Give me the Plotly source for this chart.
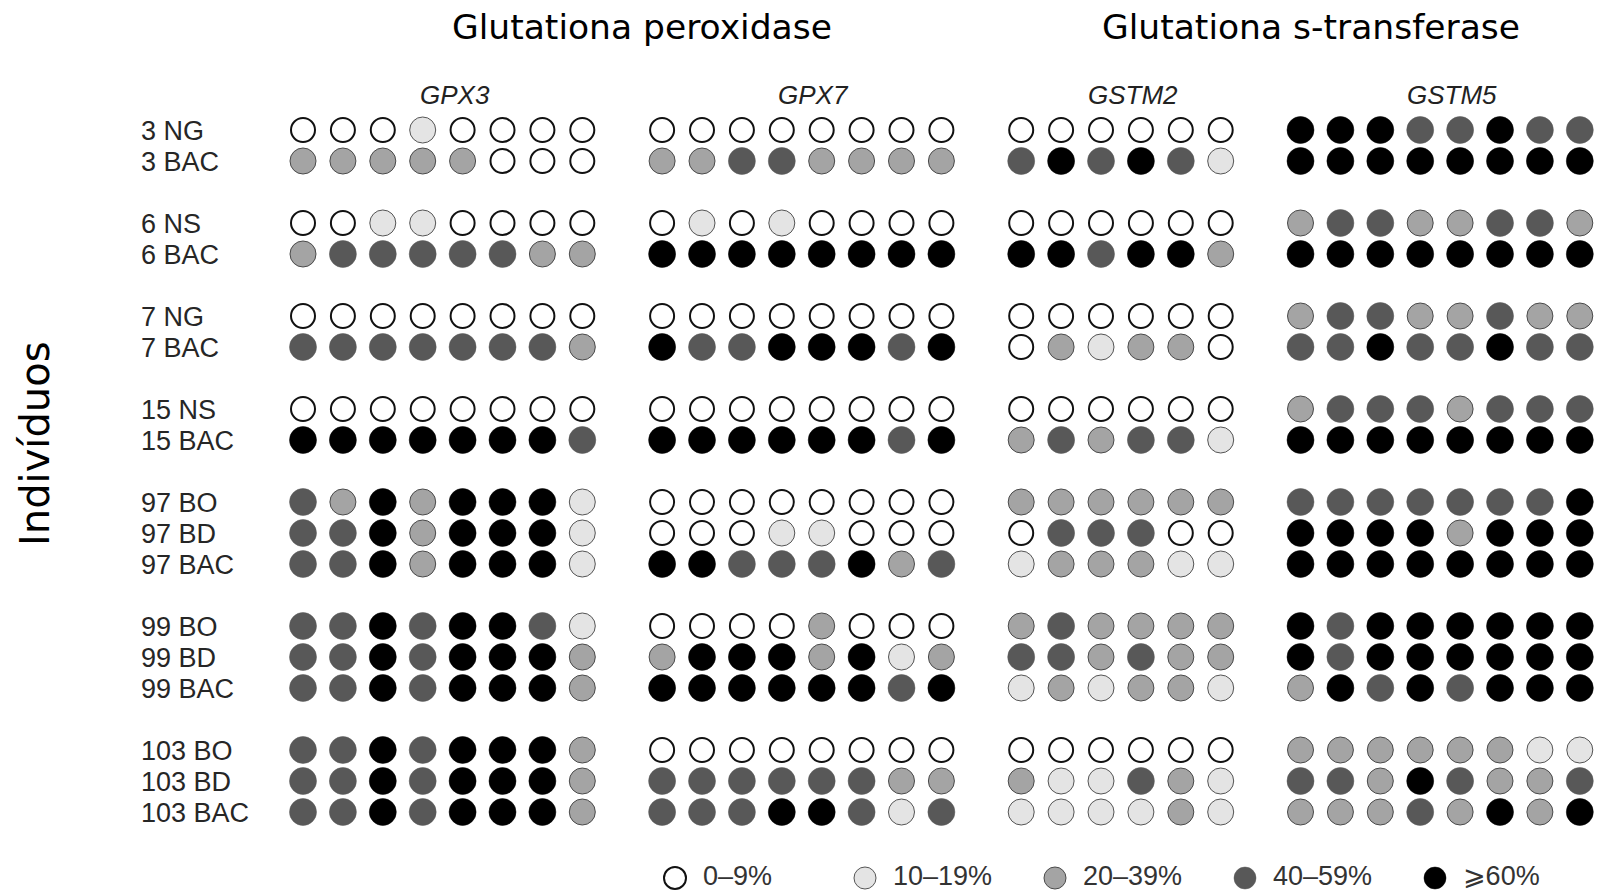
import plotly.graph_objects as go

# Samples (rows), grouped by individual
rows = ["3 NG", "3 BAC", "6 NS", "6 BAC", "7 NG", "7 BAC", "15 NS", "15 BAC",
        "97 BO", "97 BD", "97 BAC", "99 BO", "99 BD", "99 BAC",
        "103 BO", "103 BD", "103 BAC"]
group_sizes = [2, 2, 2, 2, 3, 3, 3]

genes = ["GPX3", "GPX7", "GSTM2", "GSTM5"]
families = ["Glutationa peroxidase", "Glutationa s-transferase"]
levels = ["0–9%", "10–19%", "20–39%", "40–59%", "⩾60%"]

# Methylation class per CpG site (0: 0–9%, 1: 10–19%, 2: 20–39%, 3: 40–59%, 4: ≥60%)
gpx3 = [
    [0, 0, 0, 1, 0, 0, 0, 0],
    [2, 2, 2, 2, 2, 0, 0, 0],
    [0, 0, 1, 1, 0, 0, 0, 0],
    [2, 3, 3, 3, 3, 3, 2, 2],
    [0, 0, 0, 0, 0, 0, 0, 0],
    [3, 3, 3, 3, 3, 3, 3, 2],
    [0, 0, 0, 0, 0, 0, 0, 0],
    [4, 4, 4, 4, 4, 4, 4, 3],
    [3, 2, 4, 2, 4, 4, 4, 1],
    [3, 3, 4, 2, 4, 4, 4, 1],
    [3, 3, 4, 2, 4, 4, 4, 1],
    [3, 3, 4, 3, 4, 4, 3, 1],
    [3, 3, 4, 3, 4, 4, 4, 2],
    [3, 3, 4, 3, 4, 4, 4, 2],
    [3, 3, 4, 3, 4, 4, 4, 2],
    [3, 3, 4, 3, 4, 4, 4, 2],
    [3, 3, 4, 3, 4, 4, 4, 2],
]
gpx7 = [
    [0, 0, 0, 0, 0, 0, 0, 0],
    [2, 2, 3, 3, 2, 2, 2, 2],
    [0, 1, 0, 1, 0, 0, 0, 0],
    [4, 4, 4, 4, 4, 4, 4, 4],
    [0, 0, 0, 0, 0, 0, 0, 0],
    [4, 3, 3, 4, 4, 4, 3, 4],
    [0, 0, 0, 0, 0, 0, 0, 0],
    [4, 4, 4, 4, 4, 4, 3, 4],
    [0, 0, 0, 0, 0, 0, 0, 0],
    [0, 0, 0, 1, 1, 0, 0, 0],
    [4, 4, 3, 3, 3, 4, 2, 3],
    [0, 0, 0, 0, 2, 0, 0, 0],
    [2, 4, 4, 4, 2, 4, 1, 2],
    [4, 4, 4, 4, 4, 4, 3, 4],
    [0, 0, 0, 0, 0, 0, 0, 0],
    [3, 3, 3, 3, 3, 3, 2, 2],
    [3, 3, 3, 4, 4, 3, 1, 3],
]
gstm2 = [
    [0, 0, 0, 0, 0, 0],
    [3, 4, 3, 4, 3, 1],
    [0, 0, 0, 0, 0, 0],
    [4, 4, 3, 4, 4, 2],
    [0, 0, 0, 0, 0, 0],
    [0, 2, 1, 2, 2, 0],
    [0, 0, 0, 0, 0, 0],
    [2, 3, 2, 3, 3, 1],
    [2, 2, 2, 2, 2, 2],
    [0, 3, 3, 3, 0, 0],
    [1, 2, 2, 2, 1, 1],
    [2, 3, 2, 2, 2, 2],
    [3, 3, 2, 3, 2, 2],
    [1, 2, 1, 2, 2, 1],
    [0, 0, 0, 0, 0, 0],
    [2, 1, 1, 3, 2, 1],
    [1, 1, 1, 1, 2, 1],
]
gstm5 = [
    [4, 4, 4, 3, 3, 4, 3, 3],
    [4, 4, 4, 4, 4, 4, 4, 4],
    [2, 3, 3, 2, 2, 3, 3, 2],
    [4, 4, 4, 4, 4, 4, 4, 4],
    [2, 3, 3, 2, 2, 3, 2, 2],
    [3, 3, 4, 3, 3, 4, 3, 3],
    [2, 3, 3, 3, 2, 3, 3, 3],
    [4, 4, 4, 4, 4, 4, 4, 4],
    [3, 3, 3, 3, 3, 3, 3, 4],
    [4, 4, 4, 4, 2, 4, 4, 4],
    [4, 4, 4, 4, 4, 4, 4, 4],
    [4, 3, 4, 4, 4, 4, 4, 4],
    [4, 3, 4, 4, 4, 4, 4, 4],
    [2, 4, 3, 4, 3, 4, 4, 4],
    [2, 2, 2, 2, 2, 2, 1, 1],
    [3, 3, 2, 4, 3, 2, 2, 3],
    [2, 2, 2, 3, 2, 4, 2, 4],
]
gene_data = [gpx3, gpx7, gstm2, gstm5]

# Styling per class
fill_colors = ["#ffffff", "#e4e4e4", "#a4a4a4", "#585858", "#000000"]
line_colors = ["#111111", "#555555", "#4a4a4a", "#585858", "#000000"]
line_widths = [2, 1, 1, 0.5, 0.5]
dot_sizes = [24, 26, 26, 27, 27]

W, H = 1603, 890
# Axis scale: one grid unit = 39.9 px across, 31 px down; first dot at (303, 130)
X0, DX = 303.0, 39.9
Y0, DY = 130.0, 31.0


def ux(px):
    return (px - X0) / DX


def uy(py):
    return (py - Y0) / DY


# Grid layout: one unit between rows, an extra unit between individuals / genes
row_y = []
y = 0
for n in group_sizes:
    for _ in range(n):
        row_y.append(y)
        y += 1
    y += 1

gene_x = []
x = 0
for g in gene_data:
    cols = []
    for _ in range(len(g[0])):
        cols.append(x)
        x += 1
    gene_x.append(cols)
    x += 1

pts = {k: ([], []) for k in range(len(levels))}
for gi, data in enumerate(gene_data):
    for ri, row in enumerate(data):
        for ci, v in enumerate(row):
            pts[v][0].append(gene_x[gi][ci])
            pts[v][1].append(row_y[ri])

fig = go.Figure()
for k, lab in enumerate(levels):
    fig.add_trace(go.Scatter(
        x=pts[k][0], y=pts[k][1], mode="markers", name=lab,
        marker=dict(size=dot_sizes[k], color=fill_colors[k],
                    line=dict(color=line_colors[k], width=line_widths[k])),
        hoverinfo="skip", showlegend=False,
    ))

# Sample labels
fig.add_trace(go.Scatter(
    x=[ux(141)] * len(rows), y=[ry + 0.12 for ry in row_y], mode="text",
    text=rows, textposition="middle right",
    textfont=dict(family="Liberation Sans, Arial", size=27, color="#262626"),
    showlegend=False, hoverinfo="skip",
))

# Key: symbol + range label for each class, evenly spaced along the bottom
key_x = [ux(675 + 190 * k) for k in range(len(levels))]
key_y = uy(878)
fig.add_trace(go.Scatter(
    x=key_x, y=[key_y] * len(levels), mode="markers",
    marker=dict(size=22, color=fill_colors,
                line=dict(color=line_colors, width=line_widths)),
    showlegend=False, hoverinfo="skip",
))
fig.add_trace(go.Scatter(
    x=[kx + 28 / DX for kx in key_x], y=[key_y] * len(levels), mode="text",
    text=levels, textposition="middle right",
    textfont=dict(family="Liberation Sans, DejaVu Sans, Arial", size=27, color="#333333"),
    showlegend=False, hoverinfo="skip",
))

# Gene labels above each block
for gi, name in enumerate(genes):
    cx = (gene_x[gi][0] + gene_x[gi][-1]) / 2 + 0.3
    fig.add_annotation(
        x=cx, y=uy(95), xref="x", yref="y", text=f"<i>{name}</i>", showarrow=False,
        font=dict(family="Liberation Sans Narrow, Liberation Sans, Arial", size=26, color="#222222"),
        xanchor="center", yanchor="middle",
    )

# Enzyme family headers and row-axis title
title_font = dict(family="Comic Sans MS, DejaVu Sans", size=34.5, color="#000000")
fig.add_annotation(x=642 / W, y=1 - 27 / H, xref="paper", yref="paper",
                   text=families[0], showarrow=False, font=title_font,
                   xanchor="center", yanchor="middle")
fig.add_annotation(x=1311 / W, y=1 - 27 / H, xref="paper", yref="paper",
                   text=families[1], showarrow=False, font=title_font,
                   xanchor="center", yanchor="middle")
fig.add_annotation(x=35 / W, y=1 - 444 / H, xref="paper", yref="paper",
                   text="Indivíduos", showarrow=False, textangle=-90,
                   font=dict(family="Comic Sans MS, DejaVu Sans", size=40, color="#000000"),
                   xanchor="center", yanchor="middle")

fig.update_xaxes(range=[ux(0), ux(W)], visible=False, fixedrange=True)
fig.update_yaxes(range=[uy(H), uy(0)], visible=False, fixedrange=True)

fig.update_layout(
    width=W, height=H,
    margin=dict(l=0, r=0, t=0, b=0, autoexpand=False),
    paper_bgcolor="white", plot_bgcolor="white",
    showlegend=False,
)

fig.write_html("out.html")
